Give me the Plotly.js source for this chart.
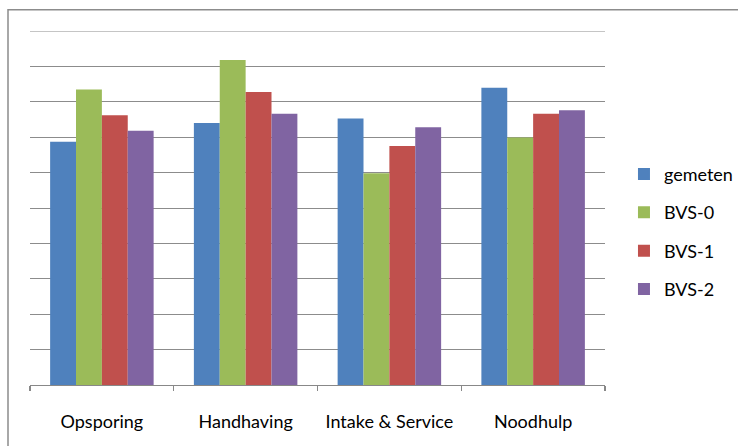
<!DOCTYPE html>
<html>
<head>
<meta charset="utf-8">
<script src="https://cdn.plot.ly/plotly-3.0.1.min.js"></script>
<style>
html,body{margin:0;padding:0;background:#fff;}
#chart{width:738px;height:446px;}
</style>
</head>
<body>
<div id="chart"></div>
<script>
var categories = ["Opsporing", "Handhaving", "Intake & Service", "Noodhulp"];
var seriesNames = ["gemeten", "BVS-0", "BVS-1", "BVS-2"];
var gemeten = [6.87, 7.40, 7.53, 8.40];
var bvs0 = [8.35, 9.18, 5.98, 6.99];
var bvs1 = [7.62, 8.28, 6.75, 7.66];
var bvs2 = [7.18, 7.66, 7.28, 7.76];
var colors = ["#4F81BD", "#9BBB59", "#C0504D", "#8064A2"];
var yMax = 10;

var values = [gemeten, bvs0, bvs1, bvs2];
var data = values.map(function(v, i){
  return {
    type: "bar",
    name: seriesNames[i],
    x: categories,
    y: v,
    marker: {color: colors[i], line: {width: 0}},
    legendgroup: "g" + i,
    hoverinfo: "none"
  };
});

var layout = {
  width: 738,
  height: 446,
  margin: {l: 30, r: 133, t: 31, b: 61, pad: 0, autoexpand: false},
  paper_bgcolor: "#fff",
  plot_bgcolor: "#fff",
  font: {family: "Lato, 'Open Sans', sans-serif", size: 18, color: "#000"},
  barmode: "group",
  bargap: 0.28,
  bargroupgap: 0,
  showlegend: true,
  legend: {
    x: 1.033, xanchor: "left",
    y: 0.433, yanchor: "middle",
    font: {size: 18},
    tracegroupgap: 12,
    itemwidth: 30,
    bgcolor: "rgba(0,0,0,0)"
  },
  xaxis: {
    type: "category",
    showgrid: false,
    showline: true,
    linecolor: "#888",
    linewidth: 1.3,
    ticks: "outside",
    tickson: "boundaries",
    ticklen: 5,
    tickcolor: "#888",
    tickwidth: 1.3,
    ticklabelstandoff: 20,
    tickfont: {size: 18}
  },
  yaxis: {
    range: [0, yMax],
    dtick: 1,
    showticklabels: false,
    showgrid: true,
    gridcolor: "#8c8c8c",
    gridwidth: 1,
    zeroline: false,
    showline: false,
    ticks: ""
  },
  shapes: [{
    type: "rect",
    xref: "paper", yref: "paper",
    x0: (8 - 30) / 575, x1: 1.5,
    y0: -0.5, y1: (385 - 10) / 353.7,
    line: {color: "#8c8c8c", width: 1.5},
    fillcolor: "rgba(0,0,0,0)",
    layer: "below"
  }, {
    type: "line",
    xref: "paper", yref: "y",
    x0: 0, x1: 1, y0: yMax, y1: yMax,
    line: {color: "#8c8c8c", width: 1},
    layer: "below"
  }]
};

Plotly.newPlot("chart", data, layout, {displayModeBar: false, staticPlot: true});
</script>
</body>
</html>
